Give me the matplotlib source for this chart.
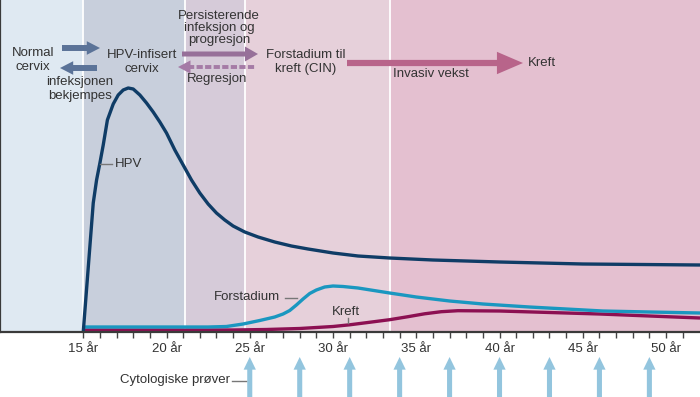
import matplotlib.pyplot as plt

plt.rcParams['font.family'] = ['Liberation Sans', 'DejaVu Sans']

# ---- data (age in years, height of curve in pixel-like units above the axis) ----
band_edges = [10, 15, 21.1, 24.7, 33.4, 52.04]
band_colors = ['#dfe9f2', '#c8cfdc', '#d6cbd9', '#e6d0da', '#e4c0d0']

hpv_age = [15.0, 15.2, 15.4, 15.6, 15.8, 16.0, 16.2, 16.45, 16.8, 17.1, 17.4, 17.7,
           18.0, 18.4, 18.8, 19.2, 19.6, 20.0, 20.5, 21.0, 21.5, 22.0, 22.5, 23.0,
           23.5, 24.0, 24.7, 25.5, 26.5, 27.5, 28.5, 30.0, 31.5, 33.4, 36.0, 40.0,
           45.0, 52.04]
hpv_val = [0, 43, 86, 129, 152, 169, 187, 212, 228, 237, 242, 244,
           243, 237, 229, 220, 210, 199, 182, 167, 152, 139, 128, 119,
           112, 106, 100, 95, 90, 86, 83, 79, 76, 74, 72, 70,
           68, 67]

forst_age = [15.0, 22.5, 23.6, 24.6, 25.6, 26.5, 27.0, 27.4, 27.8, 28.2, 28.6,
             29.0, 29.5, 30.0, 30.6, 31.5, 33.4, 35.0, 37.0, 39.0, 41.8, 44.0,
             46.2, 49.0, 52.04]
forst_val = [5, 5, 5.5, 8, 11.5, 15, 18, 21.5, 27, 33, 38.5,
             42, 45, 46, 45.5, 44, 39, 35, 31, 28, 25, 23,
             21, 20, 19]

kreft_age = [15.0, 24.0, 26.0, 28.0, 29.0, 30.0, 31.0, 32.0, 33.4, 34.5, 35.5,
             36.5, 37.5, 40.0, 43.0, 46.0, 49.0, 52.04]
kreft_val = [2, 2, 2.5, 3.5, 4.5, 5.5, 7.2, 9.3, 12.3, 15.3, 18.2,
             20.3, 21.3, 21, 19.5, 18, 16, 14]

tick_years = list(range(15, 52))
label_years = [15, 20, 25, 30, 35, 40, 45, 50]
cyto_years = [25, 28, 31, 34, 37, 40, 43, 46, 49]

txt = '#333333'

fig = plt.figure(figsize=(7, 3.97), dpi=100)
ax = fig.add_axes([0, 65 / 397, 1, 332 / 397])
ax.set_xlim(band_edges[0], band_edges[-1])
ax.set_ylim(0, 332)

for i in range(len(band_colors)):
    ax.axvspan(band_edges[i], band_edges[i + 1], color=band_colors[i], lw=0, zorder=0)
for e in band_edges[1:-1]:
    ax.axvline(e, color='white', lw=1.3, zorder=1)

ax.plot(kreft_age, kreft_val, color='#8c1052', lw=2.4, zorder=3, solid_capstyle='butt')
ax.plot(forst_age, forst_val, color='#1a97c0', lw=2.4, zorder=4, solid_capstyle='butt')
ax.plot(hpv_age, hpv_val, color='#0f3c66', lw=2.4, zorder=5, solid_capstyle='butt')

for s in ['top', 'right']:
    ax.spines[s].set_visible(False)
for s in ['left', 'bottom']:
    ax.spines[s].set_color('#3a3a3a')
    ax.spines[s].set_linewidth(1.6)
    ax.spines[s].set_zorder(6)
ax.set_yticks([])
ax.set_xticks(tick_years)
ax.set_xticklabels([f'{y} år' if y in label_years else '' for y in tick_years])
ax.tick_params(axis='x', direction='out', length=4, width=1, color='#444444',
               pad=4, labelsize=9.5, labelcolor=txt)

# cytology arrows below the axis
for y in cyto_years:
    ax.annotate('', xy=(y, 40), xytext=(y, 0),
                xycoords=('data', 'figure pixels'), textcoords=('data', 'figure pixels'),
                annotation_clip=False,
                arrowprops=dict(arrowstyle='simple,head_length=0.7,head_width=0.68,tail_width=0.28',
                                fc='#93c5de', ec='none', shrinkA=0, shrinkB=0,
                                mutation_scale=13))

# ---- overlay in pixel coordinates for the labels ----
ov = fig.add_axes([0, 0, 1, 1])
ov.set_xlim(0, 700)
ov.set_ylim(397, 0)
ov.axis('off')
ov.patch.set_alpha(0)


def arrow(x0, x1, y, color, hl, hw, tw, ms=10):
    ov.annotate('', xy=(x1, y), xytext=(x0, y),
                arrowprops=dict(arrowstyle=f'simple,head_length={hl},head_width={hw},tail_width={tw}',
                                fc=color, ec='none', shrinkA=0, shrinkB=0, mutation_scale=ms))


fs = 9.5
ov.text(33, 60, 'Normal\ncervix', fontsize=fs, color=txt, ha='center', va='center', linespacing=1.25)
ov.text(142, 62, 'HPV-infisert\ncervix', fontsize=fs, color=txt, ha='center', va='center', linespacing=1.25)
ov.text(80, 89, 'infeksjonen\nbekjempes', fontsize=fs, color=txt, ha='center', va='center', linespacing=1.15)
ov.text(219, 28, 'Persisterende\ninfeksjon og\nprogresjon', fontsize=fs, color=txt, ha='center',
        va='center', linespacing=1.0)
ov.text(217, 79, 'Regresjon', fontsize=fs, color=txt, ha='center', va='center')
ov.text(306, 62, 'Forstadium til\nkreft (CIN)', fontsize=fs, color=txt, ha='center', va='center',
        linespacing=1.25)
ov.text(528, 63, 'Kreft', fontsize=fs, color=txt, ha='left', va='center')
ov.text(393, 74, 'Invasiv vekst', fontsize=fs, color=txt, ha='left', va='center')

arrow(62, 100, 48, '#5b7398', 0.95, 0.98, 0.43)
arrow(97, 60, 68, '#5b7398', 0.95, 0.98, 0.43)
arrow(182, 258, 54, '#977099', 0.94, 1.08, 0.36)
arrow(347, 523, 63, '#b8648a', 1.34, 1.15, 0.32, ms=14)

# dashed regression arrow
ov.plot([188, 256], [67, 67], color='#a57ba6', lw=2.8, dashes=(1.6, 0.6))
arrow(192, 178, 67, '#a57ba6', 0.9, 0.95, 0.28)

# curve labels with leader lines
ov.text(115, 164, 'HPV', fontsize=fs, color=txt, ha='left', va='center')
ov.plot([100, 112], [164, 164], color='#777777', lw=1)
ov.text(214, 297, 'Forstadium', fontsize=fs, color=txt, ha='left', va='center')
ov.plot([285, 297], [298, 298], color='#777777', lw=1)
ov.text(332, 312, 'Kreft', fontsize=fs, color=txt, ha='left', va='center')
ov.plot([348, 348], [318, 323], color='#777777', lw=1)
ov.text(230, 380, 'Cytologiske prøver', fontsize=fs, color=txt, ha='right', va='center')
ov.plot([232, 246], [381, 381], color='#777777', lw=1)

fig.savefig('out.png', dpi=100)
